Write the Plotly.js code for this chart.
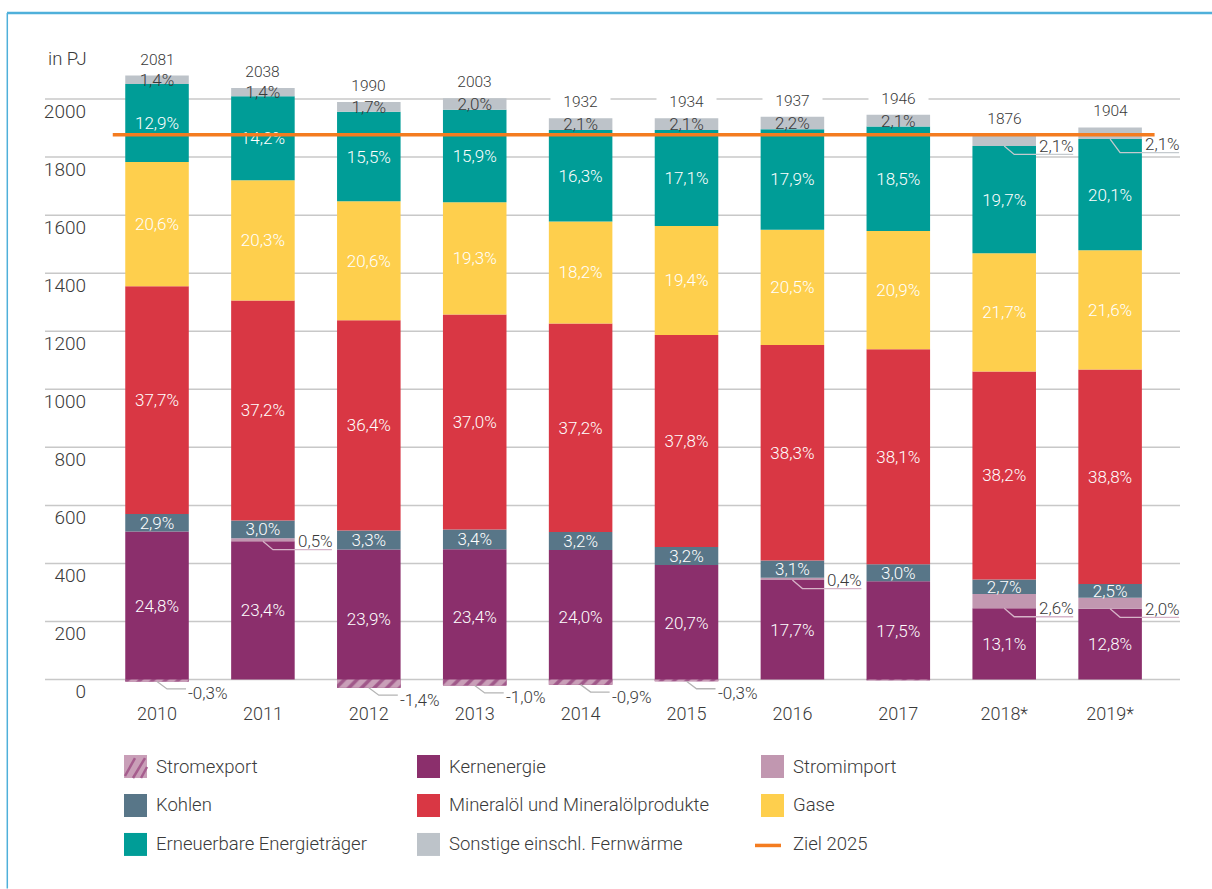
<!DOCTYPE html>
<html><head><meta charset="utf-8">
<script src="https://cdn.plot.ly/plotly-3.0.1.min.js"></script>
<style>html,body{margin:0;padding:0;background:#fff}#chart{width:1212px;height:889px}</style>
</head><body><div id="chart"></div>
<script>
// ---------- DATA ----------
const years = ['2010','2011','2012','2013','2014','2015','2016','2017','2018*','2019*'];
const totals = [2081,2038,1990,2003,1932,1934,1937,1946,1876,1904];
const stromexportPct = [-0.3,0,-1.4,-1.0,-0.9,-0.3,0,-0.1,0,0];
const kernenergiePct = [24.8,23.4,23.9,23.4,24.0,20.7,17.7,17.5,13.1,12.8];
const stromimportPct = [0,0.5,0,0,0,0,0.4,0,2.6,2.0];
const kohlenPct = [2.9,3.0,3.3,3.4,3.2,3.2,3.1,3.0,2.7,2.5];
const mineraloelPct = [37.7,37.2,36.4,37.0,37.2,37.8,38.3,38.1,38.2,38.8];
const gasePct = [20.6,20.3,20.6,19.3,18.2,19.4,20.5,20.9,21.7,21.6];
const erneuerbarePct = [12.9,14.2,15.5,15.9,16.3,17.1,17.9,18.5,19.7,20.1];
const sonstigePct = [1.4,1.4,1.7,2.0,2.1,2.1,2.2,2.1,2.1,2.1];
const ziel2025 = 1877;
const yTicks = [0,200,400,600,800,1000,1200,1400,1600,1800,2000];
const unitLabel = 'in PJ';
const zielLabel = 'Ziel 2025';

// ---------- STYLE ----------
const FONT = 'Roboto, Arial, sans-serif';
const TXT = '#3a3a3a';
const W = 1212, H = 889, ML = 92, MR = 32, MT = 40.9, MB = 191.57;
const PW = W - ML - MR, PH = H - MT - MB;
const px2x = px => (px - ML) / PW;
const px2y = py => (H - MB - py) / PH;
const nb = '\u00a0\u00a0\u00a0';
const sonstigeOutside = ['2018*', '2019*'];
const outsideDy = {'2019*|sonstige': 5};

const series = [
  {key:'export', name:'Stromexport', pct:stromexportPct, color:'#c99fb8'},
  {key:'kern', name:'Kernenergie', pct:kernenergiePct, color:'#8b2f6c'},
  {key:'import', name:'Stromimport', pct:stromimportPct, color:'#c197b0'},
  {key:'kohlen', name:'Kohlen', pct:kohlenPct, color:'#587688'},
  {key:'oel', name:'Mineralöl und Mineralölprodukte', pct:mineraloelPct, color:'#d93744'},
  {key:'gase', name:'Gase', pct:gasePct, color:'#fecf4d'},
  {key:'ern', name:'Erneuerbare Energieträger', pct:erneuerbarePct, color:'#009d97'},
  {key:'sonstige', name:'Sonstige einschl. Fernwärme', pct:sonstigePct, color:'#bdc3c9'}
];

const fmt = v => (v < 0 ? '-' : '') + Math.abs(v).toFixed(1).replace('.', ',') + '%';
series.forEach(s => { s.vals = s.pct.map((p, i) => totals[i] * p / 100); });

// Positive stack starts at the (negative) export value so that the bar top equals the total;
// the hatched export bar is drawn on top of the region between the export value and zero.
const bases = {};
let cum = series[0].vals.map(v => Math.min(v, 0));
series.slice(1).forEach(s => {
  bases[s.key] = cum.slice();
  cum = cum.map((c, i) => c + s.vals[i]);
});
bases['export'] = years.map(() => 0);
const tops = cum;

function makeTrace(s) {
  let text, color = '#ffffff';
  if (s.key === 'export' || s.key === 'import') text = years.map(() => '');
  else if (s.key === 'sonstige') {
    text = s.pct.map((p, i) => sonstigeOutside.includes(years[i]) ? '' : fmt(p));
    color = TXT;
  } else text = s.pct.map(fmt);
  const tr = {
    type:'bar', name:s.name, x:years, y:s.vals, base:bases[s.key], text:text,
    textposition:'inside', insidetextanchor:'middle', textangle:0,
    textfont:{family:FONT, size:17, color:color, weight:300},
    marker:{color:s.color, line:{width:0}},
    hoverinfo:'skip', showlegend:false
  };
  if (s.key === 'export') {
    tr.marker.pattern = {shape:'/', fillmode:'replace', bgcolor:'#c99fb8', fgcolor:'#a0588a', size:9, solidity:0.4};
  }
  return tr;
}
const traces = series.slice(1).map(makeTrace).concat([makeTrace(series[0])]);

const annotations = [];
const shapes = [];

// gridlines
yTicks.forEach(v => shapes.push({type:'line', xref:'paper', yref:'y', x0:px2x(45), x1:1, y0:v, y1:v,
  line:{color:'#c8c8c8', width:1.5}, layer:'below'}));

// totals
years.forEach((y, i) => annotations.push({x:i, y:tops[i], xref:'x', yref:'y', text:nb + totals[i] + nb,
  showarrow:false, yanchor:'middle', yshift:16, bgcolor:'#ffffff', borderpad:1,
  font:{family:FONT, size:15.5, color:TXT, weight:300}}));

// negative export labels
const exp = series[0];
exp.pct.forEach((p, i) => {
  if (p <= -0.2) {
    annotations.push({x:i, y:exp.vals[i], xref:'x', yref:'y', text:fmt(p), showarrow:false,
      xanchor:'left', xshift:29, yanchor:'middle', yshift:-12,
      font:{family:FONT, size:17, color:TXT, weight:300}});
    shapes.push({type:'path', xref:'x', yref:'y', xsizemode:'pixel', ysizemode:'pixel',
      xanchor:i, yanchor:exp.vals[i], path:'M0,0L10,-7.5L29,-7.5',
      line:{color:'#b4b4b4', width:1.3}, layer:'above'});
  }
});

// right outside labels
function rightLabel(s, i, lineColor) {
  const yb = bases[s.key][i];
  const dy = outsideDy[years[i] + '|' + s.key] || 0;
  annotations.push({x:i, y:yb, xref:'x', yref:'y', text:fmt(s.pct[i]), showarrow:false,
    xanchor:'left', xshift:33, yanchor:'middle', yshift:-dy,
    font:{family:FONT, size:17, color:TXT, weight:300}});
  const cy = -(dy + 8.5);
  shapes.push({type:'path', xref:'x', yref:'y', xsizemode:'pixel', ysizemode:'pixel',
    xanchor:i, yanchor:yb, path:'M0,0L10,' + cy + 'L69,' + cy,
    line:{color:lineColor, width:1.3}, layer:'above'});
}
const imp = series[2];
imp.pct.forEach((p, i) => { if (p > 0) rightLabel(imp, i, '#d6b4c8'); });
const son = series[7];
son.pct.forEach((p, i) => { if (sonstigeOutside.includes(years[i])) rightLabel(son, i, '#c4cace'); });

// target line
shapes.push({type:'line', xref:'x', yref:'y', x0:-0.418, x1:9.42, y0:ziel2025, y1:ziel2025,
  line:{color:'#f47c20', width:3.5}, layer:'above'});

// unit label
annotations.push({xref:'paper', yref:'paper', x:px2x(46), y:px2y(59), text:unitLabel, showarrow:false,
  xanchor:'left', yanchor:'middle', font:{family:FONT, size:18.5, color:TXT, weight:300}});

// frame
shapes.push({type:'line', xref:'paper', yref:'paper', x0:px2x(7), x1:px2x(1212), y0:px2y(13), y1:px2y(13),
  line:{color:'#4fb0da', width:2.5}});
shapes.push({type:'line', xref:'paper', yref:'paper', x0:px2x(7.3), x1:px2x(7.3), y0:px2y(13), y1:px2y(889),
  line:{color:'#4fb0da', width:1.5}});

// legend (manual)
const colX = [124, 417, 761];
const rowY = [767, 806, 845];
const legendItems = series.map(s => ({name:s.name, color:s.color, key:s.key}));
legendItems.push({name:zielLabel, key:'ziel'});
legendItems.forEach((it, k) => {
  const cx = colX[k % 3], cy = rowY[Math.floor(k / 3)];
  if (it.key === 'ziel') {
    shapes.push({type:'line', xref:'paper', yref:'paper', x0:px2x(cx - 6), x1:px2x(cx + 20), y0:px2y(cy + 1), y1:px2y(cy + 1),
      line:{color:'#f47c20', width:3.5}});
  } else {
    shapes.push({type:'rect', xref:'paper', yref:'paper', x0:px2x(cx), x1:px2x(cx + 23), y0:px2y(cy - 11.5), y1:px2y(cy + 11.5),
      fillcolor:it.color, line:{width:0}});
    if (it.key === 'export') {
      [[1, 21, 11, 3], [9, 23, 21, 3], [17, 23, 23, 12]].forEach(([a, b, c, d]) => shapes.push({type:'line', xref:'paper', yref:'paper',
        x0:px2x(cx + a), y0:px2y(cy - 11.5 + b), x1:px2x(cx + c), y1:px2y(cy - 11.5 + d),
        line:{color:'#a65d8e', width:2.5}}));
    }
  }
  annotations.push({xref:'paper', yref:'paper', x:px2x(cx + 30), y:px2y(cy), text:it.name, showarrow:false,
    xanchor:'left', yanchor:'middle', font:{family:FONT, size:18.5, color:TXT, weight:300}});
});

const layout = {
  width:W, height:H, margin:{l:ML, r:MR, t:MT, b:MB, pad:0, autoexpand:false},
  paper_bgcolor:'#ffffff', plot_bgcolor:'#ffffff',
  barmode:'overlay', bargap:0.4, showlegend:false,
  uniformtext:{mode:'show', minsize:17},
  xaxis:{type:'category', range:[-0.614, 9.660], showgrid:false, zeroline:false, showline:false, ticks:'',
    tickfont:{family:FONT, size:18, color:TXT, weight:300}, ticklabelstandoff:4, fixedrange:true},
  yaxis:{range:[-60, 2200], tickvals:yTicks, ticktext:yTicks.map(String), showgrid:false, zeroline:false,
    showline:false, ticks:'', tickfont:{family:FONT, size:19, color:TXT, weight:300},
    ticklabelstandoff:5, ticklabelshift:12, fixedrange:true},
  shapes:shapes, annotations:annotations
};
Plotly.newPlot('chart', traces, layout, {staticPlot:true, displayModeBar:false});
</script></body></html>
